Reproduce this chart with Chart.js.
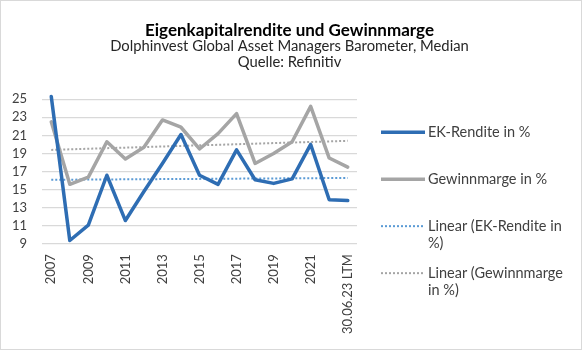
<!DOCTYPE html>
<html>
<head>
<meta charset="utf-8">
<script src="https://cdn.jsdelivr.net/npm/chart.js@4/dist/chart.umd.min.js"></script>
<style>
  html, body { margin: 0; padding: 0; background: #fff; }
  #wrap { position: relative; width: 580px; height: 348px; border: 1px solid #d9d9d9; }
</style>
</head>
<body>
<div id="wrap"><canvas id="c" width="580" height="348"></canvas></div>
<script>
const categories = ['2007','2008','2009','2010','2011','2012','2013','2014','2015','2016','2017','2018','2019','2020','2021','2022','30.06.23 LTM'];
const ekRendite   = [25.3, 9.4, 11.1, 16.6, 11.6, 14.8, 17.9, 21.1, 16.6, 15.6, 19.4, 16.1, 15.7, 16.2, 20.0, 13.9, 13.8];
const gewinnmarge = [22.5, 15.6, 16.4, 20.3, 18.4, 19.7, 22.7, 21.9, 19.5, 21.2, 23.4, 17.9, 19.0, 20.3, 24.2, 18.5, 17.5];
// Trendline endpoints (first and last category)
const trendEK   = [16.1, 16.3];
const trendGew  = [19.4, 20.4];
const yTicks = [9, 11, 13, 15, 17, 19, 21, 23, 25];

const legendTexts = [
  ['EK-Rendite in %'],
  ['Gewinnmarge in %'],
  ['Linear (EK-Rendite in', '%)'],
  ['Linear (Gewinnmarge', 'in %)']
];

function endpoints(pair) {
  const arr = categories.map(() => null);
  arr[0] = pair[0];
  arr[arr.length - 1] = pair[1];
  return arr;
}

const FONT = 'Lato, "Open Sans", sans-serif';

// Legend drawn on the canvas to the right of the plot, with wrapped text
const sideLegend = {
  id: 'sideLegend',
  afterDraw(chart) {
    const ctx = chart.ctx;
    const area = chart.chartArea;
    const x0 = area.right + 24;
    const lineW = 44;
    const textX = x0 + lineW + 3;
    ctx.save();
    ctx.font = '14.5px ' + FONT;
    ctx.textBaseline = 'middle';
    ctx.textAlign = 'left';
    chart.data.datasets.forEach((ds, i) => {
      const y = area.top + 33 + i * 47;
      ctx.beginPath();
      ctx.strokeStyle = ds.borderColor;
      ctx.lineWidth = ds.borderWidth;
      ctx.setLineDash(ds.borderDash || []);
      ctx.lineCap = 'butt';
      ctx.moveTo(x0, y);
      ctx.lineTo(x0 + lineW, y);
      ctx.stroke();
      ctx.setLineDash([]);
      ctx.fillStyle = '#404040';
      legendTexts[i].forEach((t, j) => ctx.fillText(t, textX, y + j * 17));
    });
    ctx.restore();
  }
};

new Chart(document.getElementById('c'), {
  type: 'line',
  data: {
    labels: categories,
    datasets: [
      { label: 'EK-Rendite in %', data: ekRendite, borderColor: '#2E6DB3', borderWidth: 3.5,
        pointRadius: 0, tension: 0, clip: false, borderJoinStyle: 'round', borderCapStyle: 'round' },
      { label: 'Gewinnmarge in %', data: gewinnmarge, borderColor: '#A5A5A5', borderWidth: 3.5,
        pointRadius: 0, tension: 0, clip: false, borderJoinStyle: 'round', borderCapStyle: 'round' },
      { label: 'Linear (EK-Rendite in %)', data: endpoints(trendEK), borderColor: '#5B9BD5', borderWidth: 2,
        borderDash: [2, 2], pointRadius: 0, spanGaps: true },
      { label: 'Linear (Gewinnmarge in %)', data: endpoints(trendGew), borderColor: '#A5A5A5', borderWidth: 2,
        borderDash: [2, 2], pointRadius: 0, spanGaps: true }
    ]
  },
  plugins: [sideLegend],
  options: {
    responsive: false,
    animation: false,
    layout: { padding: { left: 7, right: 10, top: 6, bottom: 13 } },
    plugins: {
      title: {
        display: true,
        text: 'Eigenkapitalrendite und Gewinnmarge',
        color: '#000',
        font: { family: FONT, size: 17, weight: 'bold', lineHeight: 0.8 },
        padding: { top: 17, bottom: 0 }
      },
      subtitle: {
        display: true,
        text: ['Dolphinvest Global Asset Managers Barometer, Median', 'Quelle: Refinitiv'],
        color: '#262626',
        font: { family: FONT, size: 14.8, weight: 'normal', lineHeight: 1.1 },
        padding: { top: 0, bottom: 29 }
      },
      legend: { display: false },
      tooltip: { enabled: false }
    },
    scales: {
      x: {
        offset: true,
        grid: { display: false },
        border: { display: false },
        afterFit(scale) { scale.paddingLeft = 0; scale.paddingRight = 0; },
        ticks: {
          autoSkip: false,
          maxRotation: 90,
          minRotation: 90,
          color: '#404040',
          font: { family: FONT, size: 13 },
          padding: 2,
          callback(val, idx) { return idx % 2 === 0 ? categories[idx] : ''; }
        }
      },
      y: {
        min: yTicks[0],
        max: yTicks[yTicks.length - 1],
        afterBuildTicks(scale) { scale.ticks = yTicks.map(v => ({ value: v })); },
        afterFit(scale) { scale.width = 34; },
        grid: { color: '#D9D9D9', lineWidth: 1.3, drawTicks: false },
        border: { display: false },
        ticks: {
          autoSkip: false,
          color: '#404040',
          font: { family: FONT, size: 13 },
          padding: 15
        }
      },
      legendSpace: {
        type: 'linear',
        position: 'right',
        display: true,
        grid: { display: false },
        border: { display: false },
        ticks: { display: false },
        afterFit(scale) { scale.width = 214; }
      }
    }
  }
});
</script>
</body>
</html>
